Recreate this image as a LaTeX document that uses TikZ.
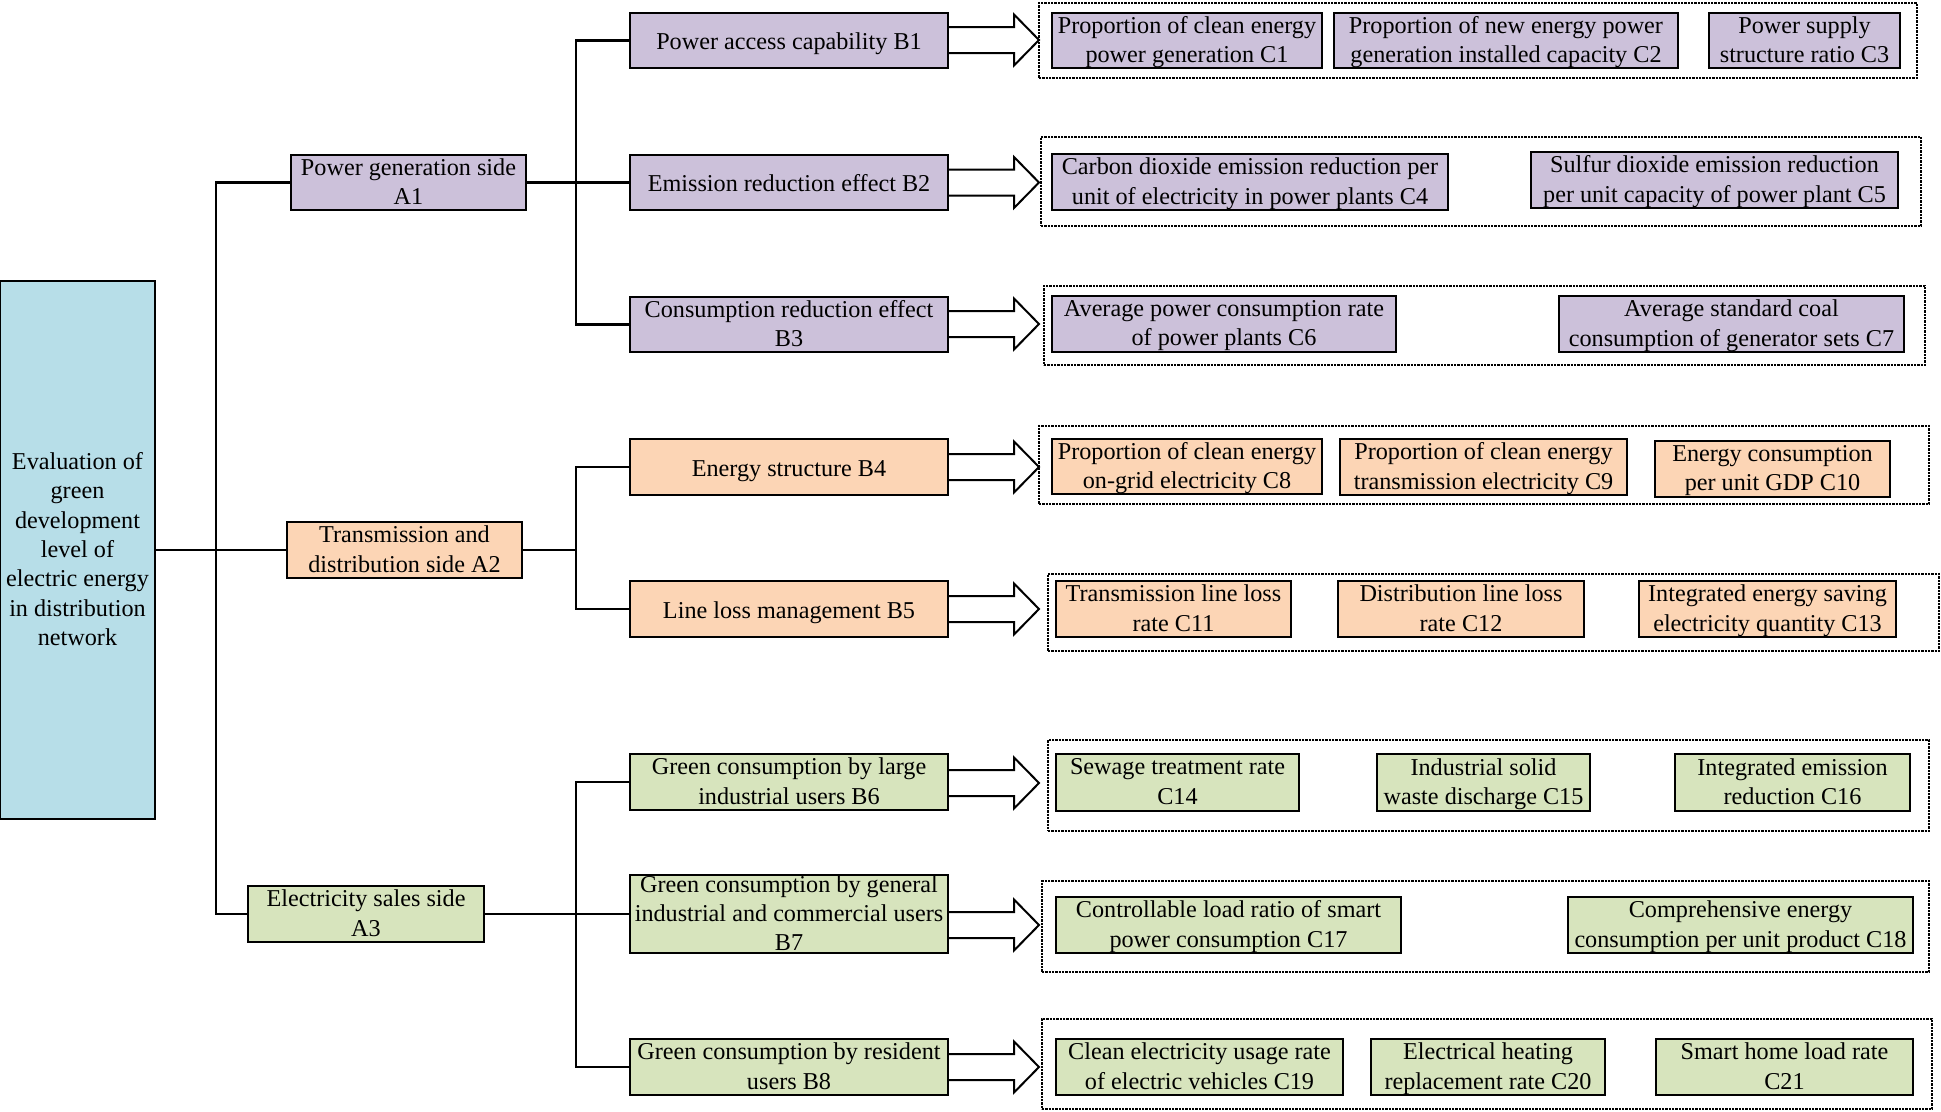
\documentclass[tikz,border=0pt]{standalone}
\usepackage{fontspec}
\setmainfont{Liberation Serif}
\usetikzlibrary{calc}
\definecolor{cpur}{HTML}{CCC1DA}
\definecolor{cora}{HTML}{FCD5B5}
\definecolor{cgrn}{HTML}{D7E4BD}
\definecolor{cblu}{HTML}{B7DEE8}
\tikzset{
  box/.style={draw=black, line width=1.4pt, inner sep=0pt, outer sep=0pt},
  pur/.style={box, fill=cpur},
  ora/.style={box, fill=cora},
  grn/.style={box, fill=cgrn},
  blu/.style={box, fill=cblu},
  txt/.style={font=\fontsize{18.15}{22}\selectfont, align=center, inner sep=0pt,
    execute at begin node=\strut, execute at end node=\strut},
  grp/.style={draw=black, line width=2.2pt, dash pattern=on 1.7pt off 0.8pt, inner sep=0pt, outer sep=0pt},
  link/.style={line width=2.1pt, draw=black},
  hollow/.style={line width=1.5pt, draw=black, line join=miter},
}
\newcommand\mybox[7]{%
  \pgfmathsetmacro\bcx{(#3+#5)/2}%
  \pgfmathsetmacro\bcy{(#4+#6)/2}%
  \pgfmathsetmacro\bw{(#5-#3)*0.75}%
  \pgfmathsetmacro\bh{(#6-#4)*0.75}%
  \node[#1, minimum width=\bw pt, minimum height=\bh pt] (#2) at (\bcx,\bcy) {};%
  \node[txt, yshift=-2.5pt] (#2t) at (#2.center) {#7};}
\newcommand\mygrp[5]{%
  \pgfmathsetmacro\bcx{(#2+#4)/2}%
  \pgfmathsetmacro\bcy{(#3+#5)/2}%
  \pgfmathsetmacro\bw{(#4-#2)*0.75}%
  \pgfmathsetmacro\bh{(#5-#3)*0.75}%
  \node[grp, minimum width=\bw pt, minimum height=\bh pt] (#1) at (\bcx,\bcy) {};}
\newcommand\harr[2]{%
  \coordinate (#1a) at (948,#2);%
  \draw[hollow] ($(#1a)+(0,-13)$) -- ++(66,0) -- ++(0,-12.5) -- ($(#1a)+(91,0)$)
     -- ++(-25,25.5) -- ++(0,-12.5) -- ++(-66,0);}
\begin{document}
\begin{tikzpicture}[x=0.75pt,y=-0.75pt]
\useasboundingbox (0,0) rectangle (1941,1111);
\fill[white] (0,0) rectangle (1941,1111);
% root and level A
\mybox{blu}{R}{0}{281}{155}{819}{Evaluation of\\green\\development\\level of\\electric energy\\in distribution\\network}
\mybox{pur}{A1}{291}{155}{526}{210}{Power generation side\\A1}
\mybox{ora}{A2}{287}{522}{522}{578}{Transmission and\\distribution side A2}
\mybox{grn}{A3}{248}{886}{484}{942}{Electricity sales side\\A3}
% level B
\mybox{pur}{B1}{630}{13}{948}{68}{Power access capability B1}
\mybox{pur}{B2}{630}{155}{948}{210}{Emission reduction effect B2}
\mybox{pur}{B3}{630}{297}{948}{352}{Consumption reduction effect\\B3}
\mybox{ora}{B4}{630}{439}{948}{495}{Energy structure B4}
\mybox{ora}{B5}{630}{581}{948}{637}{Line loss management B5}
\mybox{grn}{B6}{630}{754}{948}{810}{Green consumption by large\\industrial users B6}
\mybox{grn}{B7}{630}{875}{948}{953}{Green consumption by general\\industrial and commercial users\\B7}
\mybox{grn}{B8}{630}{1039}{948}{1095}{Green consumption by resident\\users B8}
% junctions
\coordinate (j1) at (216,550);
\coordinate (j2) at (576,182.5);
\coordinate (j3) at (576,550);
\coordinate (j4) at (576,914);
\draw[link] (R.east) -- (A2.west);
\draw[link] (A1.west) -| (j1) |- (A3.west);
\draw[link] (A1.east) -- (B2.west);
\draw[link] (B1.west) -| (j2) |- (B3.west);
\draw[link] (A2.east) -- (j3);
\draw[link] (B4.west) -| (j3) |- (B5.west);
\draw[link] (A3.east) -- (B7.west);
\draw[link] (B6.west) -| (j4) |- (B8.west);
% hollow arrows
\harr{B1}{40}
\harr{B2}{182.5}
\harr{B3}{324}
\harr{B4}{467}
\harr{B5}{609}
\harr{B6}{783}
\harr{B7}{925}
\harr{B8}{1067}
% groups
\mygrp{G1}{1039}{3}{1917}{78}
\mygrp{G2}{1041}{137}{1921}{226}
\mygrp{G3}{1044}{286}{1925}{365}
\mygrp{G4}{1039}{426}{1929}{504}
\mygrp{G5}{1048}{574}{1939}{651}
\mygrp{G6}{1048}{740}{1929}{831}
\mygrp{G7}{1042}{881}{1929}{972}
\mygrp{G8}{1042}{1019}{1932}{1109}
% level C
\mybox{pur}{C1}{1052}{13}{1322}{68}{Proportion of clean energy\\power generation C1}
\mybox{pur}{C2}{1334}{13}{1678}{68}{Proportion of new energy power\\generation installed capacity C2}
\mybox{pur}{C3}{1709}{13}{1900}{68}{Power supply\\structure ratio C3}
\mybox{pur}{C4}{1052}{154}{1448}{210}{Carbon dioxide emission reduction per\\unit of electricity in power plants C4}
\mybox{pur}{C5}{1531}{152}{1898}{208}{Sulfur dioxide emission reduction\\per unit capacity of power plant C5}
\mybox{pur}{C6}{1052}{296}{1396}{352}{Average power consumption rate\\of power plants C6}
\mybox{pur}{C7}{1559}{296}{1904}{352}{Average standard coal\\consumption of generator sets C7}
\mybox{ora}{C8}{1052}{439}{1322}{494}{Proportion of clean energy\\on-grid electricity C8}
\mybox{ora}{C9}{1340}{439}{1627}{495}{Proportion of clean energy\\transmission electricity C9}
\mybox{ora}{C10}{1655}{441}{1890}{497}{Energy consumption\\per unit GDP C10}
\mybox{ora}{C11}{1056}{581}{1291}{637}{Transmission line loss\\rate C11}
\mybox{ora}{C12}{1338}{581}{1584}{637}{Distribution line loss\\rate C12}
\mybox{ora}{C13}{1639}{581}{1896}{637}{Integrated energy saving\\electricity quantity C13}
\mybox{grn}{C14}{1056}{754}{1299}{811}{Sewage treatment rate\\C14}
\mybox{grn}{C15}{1377}{754}{1590}{811}{Industrial solid\\waste discharge C15}
\mybox{grn}{C16}{1675}{754}{1910}{811}{Integrated emission\\reduction C16}
\mybox{grn}{C17}{1056}{897}{1401}{953}{Controllable load ratio of smart\\power consumption C17}
\mybox{grn}{C18}{1568}{897}{1913}{953}{Comprehensive energy\\consumption per unit product C18}
\mybox{grn}{C19}{1056}{1039}{1343}{1095}{Clean electricity usage rate\\of electric vehicles C19}
\mybox{grn}{C20}{1371}{1039}{1605}{1095}{Electrical heating\\replacement rate C20}
\mybox{grn}{C21}{1656}{1039}{1913}{1095}{Smart home load rate\\C21}
\end{tikzpicture}
\end{document}
